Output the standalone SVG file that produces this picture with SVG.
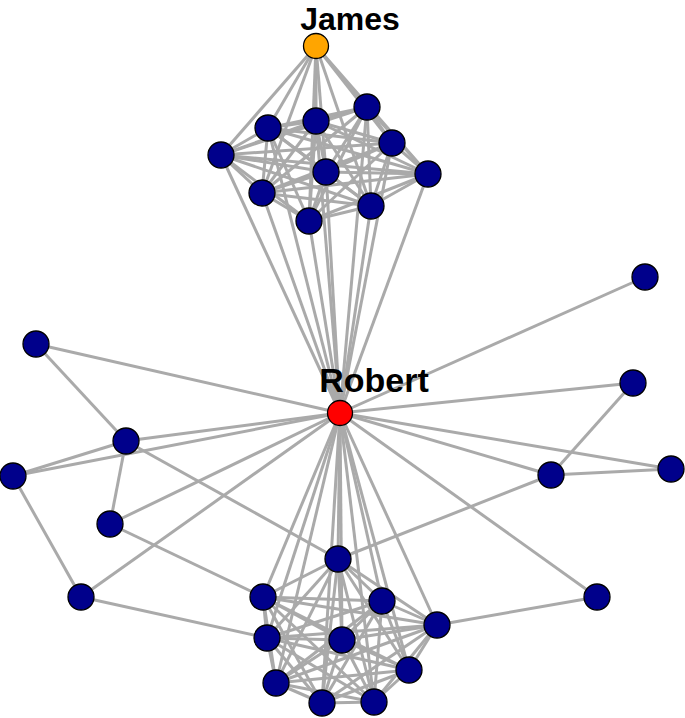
<svg xmlns="http://www.w3.org/2000/svg" width="685" height="718" viewBox="0 0 685 718">
<style>
.e{stroke:#aaaaaa;stroke-width:3;fill:none}
.n{fill:#00008b;stroke:#000;stroke-width:1.3}
.lbl{font-family:"Liberation Sans",Arial,sans-serif;font-weight:bold;font-size:34px;fill:#000;text-anchor:middle}
</style>
<rect width="685" height="718" fill="#fff"/>
<g id="connectors">
<path class="e" d="M316 46L367 107"/><path class="e" d="M316 46L316 121"/><path class="e" d="M316 46L268 128"/><path class="e" d="M316 46L392 143"/><path class="e" d="M316 46L221 155"/><path class="e" d="M316 46L326 172"/><path class="e" d="M316 46L428 174"/><path class="e" d="M316 46L262 193"/><path class="e" d="M316 46L371 206"/><path class="e" d="M316 46L309 221"/>
<path class="e" d="M367 107L316 121"/><path class="e" d="M367 107L268 128"/><path class="e" d="M367 107L392 143"/><path class="e" d="M367 107L221 155"/><path class="e" d="M367 107L326 172"/><path class="e" d="M367 107L428 174"/><path class="e" d="M367 107L262 193"/><path class="e" d="M367 107L371 206"/><path class="e" d="M367 107L309 221"/>
<path class="e" d="M316 121L268 128"/><path class="e" d="M316 121L392 143"/><path class="e" d="M316 121L221 155"/><path class="e" d="M316 121L326 172"/><path class="e" d="M316 121L428 174"/><path class="e" d="M316 121L262 193"/><path class="e" d="M316 121L371 206"/><path class="e" d="M316 121L309 221"/>
<path class="e" d="M268 128L392 143"/><path class="e" d="M268 128L221 155"/><path class="e" d="M268 128L326 172"/><path class="e" d="M268 128L428 174"/><path class="e" d="M268 128L262 193"/><path class="e" d="M268 128L371 206"/><path class="e" d="M268 128L309 221"/>
<path class="e" d="M392 143L221 155"/><path class="e" d="M392 143L326 172"/><path class="e" d="M392 143L428 174"/><path class="e" d="M392 143L262 193"/><path class="e" d="M392 143L371 206"/><path class="e" d="M392 143L309 221"/>
<path class="e" d="M221 155L326 172"/><path class="e" d="M221 155L428 174"/><path class="e" d="M221 155L262 193"/><path class="e" d="M221 155L371 206"/><path class="e" d="M221 155L309 221"/>
<path class="e" d="M326 172L428 174"/><path class="e" d="M326 172L262 193"/><path class="e" d="M326 172L371 206"/><path class="e" d="M326 172L309 221"/>
<path class="e" d="M428 174L262 193"/><path class="e" d="M428 174L371 206"/><path class="e" d="M428 174L309 221"/>
<path class="e" d="M262 193L371 206"/><path class="e" d="M262 193L309 221"/>
<path class="e" d="M371 206L309 221"/>
<path class="e" d="M340 413L367 107"/><path class="e" d="M340 413L316 121"/><path class="e" d="M340 413L268 128"/><path class="e" d="M340 413L392 143"/><path class="e" d="M340 413L221 155"/><path class="e" d="M340 413L326 172"/><path class="e" d="M340 413L428 174"/><path class="e" d="M340 413L262 193"/><path class="e" d="M340 413L371 206"/><path class="e" d="M340 413L309 221"/>
<path class="e" d="M338 559L263 597"/><path class="e" d="M338 559L382 601"/><path class="e" d="M338 559L437 625"/><path class="e" d="M338 559L267 638"/><path class="e" d="M338 559L342 640"/><path class="e" d="M338 559L409 670"/><path class="e" d="M338 559L276 683"/><path class="e" d="M338 559L322 703"/><path class="e" d="M338 559L374 702"/>
<path class="e" d="M263 597L382 601"/><path class="e" d="M263 597L437 625"/><path class="e" d="M263 597L267 638"/><path class="e" d="M263 597L342 640"/><path class="e" d="M263 597L409 670"/><path class="e" d="M263 597L276 683"/><path class="e" d="M263 597L322 703"/><path class="e" d="M263 597L374 702"/>
<path class="e" d="M382 601L437 625"/><path class="e" d="M382 601L267 638"/><path class="e" d="M382 601L342 640"/><path class="e" d="M382 601L409 670"/><path class="e" d="M382 601L276 683"/><path class="e" d="M382 601L322 703"/><path class="e" d="M382 601L374 702"/>
<path class="e" d="M437 625L267 638"/><path class="e" d="M437 625L342 640"/><path class="e" d="M437 625L409 670"/><path class="e" d="M437 625L276 683"/><path class="e" d="M437 625L322 703"/><path class="e" d="M437 625L374 702"/>
<path class="e" d="M267 638L342 640"/><path class="e" d="M267 638L409 670"/><path class="e" d="M267 638L276 683"/><path class="e" d="M267 638L322 703"/><path class="e" d="M267 638L374 702"/>
<path class="e" d="M342 640L409 670"/><path class="e" d="M342 640L276 683"/><path class="e" d="M342 640L322 703"/><path class="e" d="M342 640L374 702"/>
<path class="e" d="M409 670L276 683"/><path class="e" d="M409 670L322 703"/><path class="e" d="M409 670L374 702"/>
<path class="e" d="M276 683L322 703"/><path class="e" d="M276 683L374 702"/>
<path class="e" d="M322 703L374 702"/>
<path class="e" d="M340 413L338 559"/><path class="e" d="M340 413L263 597"/><path class="e" d="M340 413L382 601"/><path class="e" d="M340 413L437 625"/><path class="e" d="M340 413L267 638"/><path class="e" d="M340 413L342 640"/><path class="e" d="M340 413L409 670"/><path class="e" d="M340 413L276 683"/><path class="e" d="M340 413L322 703"/><path class="e" d="M340 413L374 702"/>
<path class="e" d="M36 344L340 413"/><path class="e" d="M36 344L126 441"/><path class="e" d="M126 441L340 413"/><path class="e" d="M126 441L13 476"/><path class="e" d="M126 441L110 524"/><path class="e" d="M126 441L338 559"/><path class="e" d="M13 476L340 413"/><path class="e" d="M13 476L81 597"/><path class="e" d="M110 524L340 413"/><path class="e" d="M110 524L263 597"/><path class="e" d="M81 597L340 413"/><path class="e" d="M81 597L267 638"/>
<path class="e" d="M645 277L340 413"/><path class="e" d="M633 383L340 413"/><path class="e" d="M633 383L551 475"/><path class="e" d="M551 475L671 469"/><path class="e" d="M551 475L340 413"/><path class="e" d="M671 469L340 413"/><path class="e" d="M551 475L338 559"/><path class="e" d="M597 597L340 413"/><path class="e" d="M597 597L437 625"/>
</g>
<g id="node-james"><circle cx="316" cy="46" r="12.5" fill="#ffa500" stroke="#000" stroke-width="1.3"/><text class="lbl" x="350" y="30" style="font-size:32px">James</text></g>
<g id="node-a"><circle class="n" cx="367" cy="107" r="13"/></g>
<g id="node-b"><circle class="n" cx="316" cy="121" r="13"/></g>
<g id="node-c"><circle class="n" cx="268" cy="128" r="13"/></g>
<g id="node-d"><circle class="n" cx="392" cy="143" r="13"/></g>
<g id="node-e"><circle class="n" cx="221" cy="155" r="13"/></g>
<g id="node-f"><circle class="n" cx="326" cy="172" r="13"/></g>
<g id="node-g"><circle class="n" cx="428" cy="174" r="13"/></g>
<g id="node-h"><circle class="n" cx="262" cy="193" r="13"/></g>
<g id="node-i"><circle class="n" cx="371" cy="206" r="13"/></g>
<g id="node-j"><circle class="n" cx="309" cy="221" r="13"/></g>
<g id="node-l1"><circle class="n" cx="36" cy="344" r="13"/></g>
<g id="node-l2"><circle class="n" cx="126" cy="441" r="13"/></g>
<g id="node-l3"><circle class="n" cx="13" cy="476" r="13"/></g>
<g id="node-l4"><circle class="n" cx="110" cy="524" r="13"/></g>
<g id="node-l5"><circle class="n" cx="81" cy="597" r="13"/></g>
<g id="node-r1"><circle class="n" cx="645" cy="277" r="13"/></g>
<g id="node-r2"><circle class="n" cx="633" cy="383" r="13"/></g>
<g id="node-r3"><circle class="n" cx="551" cy="475" r="13"/></g>
<g id="node-r4"><circle class="n" cx="671" cy="469" r="13"/></g>
<g id="node-r5"><circle class="n" cx="597" cy="597" r="13"/></g>
<g id="node-m1"><circle class="n" cx="338" cy="559" r="13"/></g>
<g id="node-m2"><circle class="n" cx="263" cy="597" r="13"/></g>
<g id="node-m3"><circle class="n" cx="382" cy="601" r="13"/></g>
<g id="node-m4"><circle class="n" cx="437" cy="625" r="13"/></g>
<g id="node-m5"><circle class="n" cx="267" cy="638" r="13"/></g>
<g id="node-m6"><circle class="n" cx="342" cy="640" r="13"/></g>
<g id="node-m7"><circle class="n" cx="409" cy="670" r="13"/></g>
<g id="node-m8"><circle class="n" cx="276" cy="683" r="13"/></g>
<g id="node-m9"><circle class="n" cx="322" cy="703" r="13"/></g>
<g id="node-m10"><circle class="n" cx="374" cy="702" r="13"/></g>
<g id="node-robert"><circle cx="340" cy="413" r="12.5" fill="#ff0000" stroke="#000" stroke-width="1.3"/><text class="lbl" x="374" y="392">Robert</text></g>
</svg>
